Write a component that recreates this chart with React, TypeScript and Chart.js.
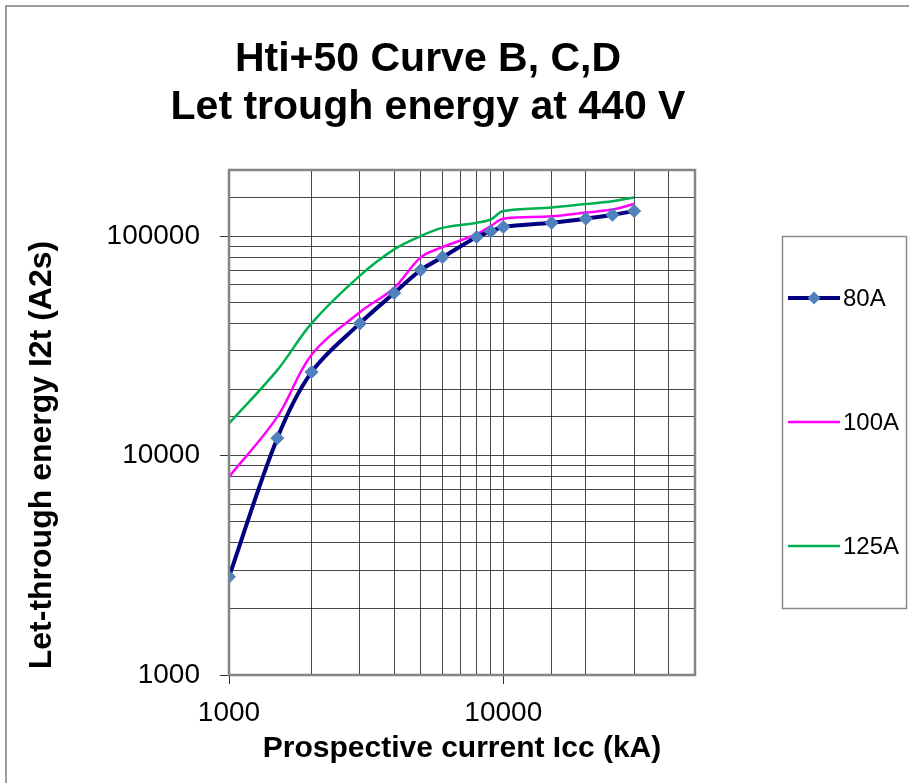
import React, { useEffect, useRef } from 'react';
import { Chart, registerables } from 'chart.js';

Chart.register(...registerables);

// ---- data ----
const currents = [1000, 1500, 2000, 3000, 4000, 5000, 6000, 8000, 9000, 10000, 15000, 20000, 25000, 30000];
const i2t80A = [2800, 12000, 24000, 40000, 55000, 70000, 80000, 99000, 105000, 110000, 115000, 120000, 125000, 130000];
const i2t100A = [8000, 15000, 28800, 45000, 58000, 80000, 89000, 102000, 111000, 120000, 123000, 128000, 132000, 140000];
const i2t125A = [14000, 24500, 40000, 66000, 87000, 100000, 109000, 115000, 119000, 130000, 135000, 140000, 144000, 150000];

const seriesNames = ['80A', '100A', '125A'];
const titleLines = ['Hti+50 Curve B, C,D', 'Let trough energy at 440 V'];
const xAxisTitle = 'Prospective current Icc (kA)';
const yAxisTitle = 'Let-through energy I2t (A2s)';
const xTickLabels = [1000, 10000];
const yTickLabels = [1000, 10000, 100000];
const xRange = [1000, 50000];
const yRange = [1000, 200000];

const FONT = '"Liberation Sans", Arial, Helvetica, sans-serif';

const isLabelled = (list: number[], v: number) => list.some((t) => Math.abs(t - v) < 1e-6);

export default function App() {
  const ref = useRef<HTMLCanvasElement>(null);

  useEffect(() => {
    const canvas = ref.current;
    if (!canvas) return;
    const pts = (vals: number[]) => currents.map((x, i) => ({ x, y: vals[i] }));

    const overlay = {
      id: 'overlay',
      beforeDraw(chart: any) {
        const { ctx, width, height } = chart;
        ctx.save();
        ctx.fillStyle = '#ffffff';
        ctx.fillRect(0, 0, width, height);
        ctx.restore();
      },
      afterDraw(chart: any) {
        const { ctx, chartArea } = chart;
        ctx.save();
        // outer frame (top + left only visible)
        ctx.strokeStyle = '#7f7f7f';
        ctx.lineWidth = 1.5;
        ctx.beginPath();
        ctx.moveTo(6, chart.height);
        ctx.lineTo(6, 6);
        ctx.lineTo(chart.width, 6);
        ctx.stroke();

        // plot area border
        ctx.strokeStyle = '#858585';
        ctx.lineWidth = 2.5;
        ctx.strokeRect(chartArea.left, chartArea.top, chartArea.right - chartArea.left, chartArea.bottom - chartArea.top);

        // title
        ctx.fillStyle = '#000';
        ctx.textAlign = 'center';
        ctx.textBaseline = 'alphabetic';
        ctx.font = `bold 41px ${FONT}`;
        ctx.fillText(titleLines[0], 428, 71);
        ctx.fillText(titleLines[1], 428, 119);

        // y axis title
        ctx.save();
        ctx.translate(51, 455);
        ctx.rotate(-Math.PI / 2);
        ctx.font = `bold 32px ${FONT}`;
        ctx.fillText(yAxisTitle, 0, 0);
        ctx.restore();

        // legend
        const lx = 782.5, ly = 236.5, lw = 124, lh = 372;
        ctx.strokeStyle = '#8a8a8a';
        ctx.lineWidth = 1.5;
        ctx.strokeRect(lx, ly, lw, lh);
        const rowY = [298, 422, 546];
        chart.data.datasets.forEach((ds: any, i: number) => {
          const y = rowY[i];
          ctx.strokeStyle = ds.borderColor;
          ctx.lineWidth = ds.borderWidth;
          ctx.beginPath();
          ctx.moveTo(788, y);
          ctx.lineTo(840, y);
          ctx.stroke();
          if (ds.pointRadius > 0) {
            const r = ds.pointRadius;
            ctx.fillStyle = ds.pointBackgroundColor;
            ctx.beginPath();
            ctx.moveTo(814, y - r);
            ctx.lineTo(814 + r, y);
            ctx.lineTo(814, y + r);
            ctx.lineTo(814 - r, y);
            ctx.closePath();
            ctx.fill();
          }
          ctx.fillStyle = '#000';
          ctx.textAlign = 'left';
          ctx.textBaseline = 'middle';
          ctx.font = `24px ${FONT}`;
          ctx.fillText(ds.label, 843, y + 1);
        });
        ctx.restore();
      },
    };

    const gridColor = 'rgba(0,0,0,0.72)';

    const chart = new Chart(canvas, {
      type: 'line',
      data: {
        datasets: [
          {
            label: seriesNames[0],
            data: pts(i2t80A),
            borderColor: '#000080',
            borderWidth: 4,
            pointStyle: 'rectRot',
            pointRadius: 6.5,
            pointBackgroundColor: '#4F81BD',
            pointBorderColor: '#4F81BD',
            pointBorderWidth: 1,
            tension: 0.35,
            order: 0,
          },
          {
            label: seriesNames[1],
            data: pts(i2t100A),
            borderColor: '#FF00FF',
            borderWidth: 2.5,
            pointRadius: 0,
            tension: 0.35,
            order: 1,
          },
          {
            label: seriesNames[2],
            data: pts(i2t125A),
            borderColor: '#00B050',
            borderWidth: 2.5,
            pointRadius: 0,
            tension: 0.35,
            order: 2,
          },
        ],
      },
      options: {
        responsive: false,
        animation: false,
        devicePixelRatio: 1,
        layout: { padding: { top: 170, right: 214, left: 0, bottom: 0 } },
        plugins: {
          legend: { display: false },
          title: { display: false },
          tooltip: { enabled: false },
        },
        scales: {
          x: {
            type: 'logarithmic',
            min: xRange[0],
            max: xRange[1],
            afterFit: (scale: any) => {
              scale.height = 108;
            },
            border: { display: false },
            grid: {
              color: gridColor,
              lineWidth: 1,
              tickLength: 9,
              tickColor: (c: any) => (c.tick && isLabelled(xTickLabels, c.tick.value) ? '#333' : 'rgba(0,0,0,0)'),
            },
            ticks: {
              autoSkip: false,
              maxRotation: 0,
              padding: 12,
              color: '#000',
              font: { family: FONT, size: 28 },
              callback: (v: any) => (isLabelled(xTickLabels, Number(v)) ? String(v) : ''),
            },
            title: {
              display: true,
              text: xAxisTitle,
              color: '#000',
              font: { family: FONT, size: 30, weight: 'bold' },
              padding: { top: 0, bottom: 16 },
            },
          },
          y: {
            type: 'logarithmic',
            min: yRange[0],
            max: yRange[1],
            afterFit: (scale: any) => {
              scale.width = 229;
            },
            border: { display: false },
            grid: {
              color: gridColor,
              lineWidth: 1,
              tickLength: 9,
              tickColor: (c: any) => (c.tick && isLabelled(yTickLabels, c.tick.value) ? '#333' : 'rgba(0,0,0,0)'),
            },
            ticks: {
              autoSkip: false,
              padding: 20,
              color: '#000',
              font: { family: FONT, size: 28 },
              callback: (v: any) => (isLabelled(yTickLabels, Number(v)) ? String(v) : ''),
            },
          },
        },
      },
      plugins: [overlay],
    } as any);

    return () => chart.destroy();
  }, []);

  return (
    <div style={{ position: 'fixed', left: 0, top: 0, width: 909, height: 783, background: '#fff' }}>
      <canvas ref={ref} width={909} height={783} style={{ display: 'block', width: 909, height: 783 }} />
    </div>
  );
}
